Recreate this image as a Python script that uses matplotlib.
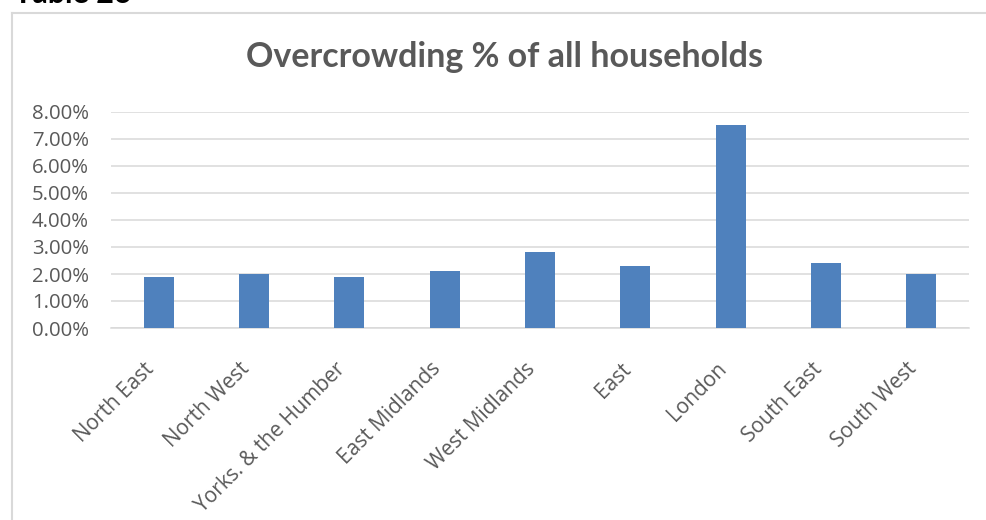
import matplotlib.pyplot as plt
from matplotlib.ticker import FuncFormatter

# Overcrowding by region, share of all households
regions = ["North East", "North West", "Yorks. & the Humber", "East Midlands",
           "West Midlands", "East", "London", "South East", "South West"]
overcrowding = [0.019, 0.020, 0.019, 0.021, 0.028, 0.023, 0.075, 0.024, 0.020]
y_ticks = [0.00, 0.01, 0.02, 0.03, 0.04, 0.05, 0.06, 0.07, 0.08]

plt.rcParams["font.family"] = ["Open Sans", "DejaVu Sans"]

W, H = 986, 520
fig = plt.figure(figsize=(W / 100, H / 100), dpi=100)

# chart frame (top and left edges visible)
fig.add_artist(plt.Line2D([12 / W, 985 / W], [1 - 13 / H, 1 - 13 / H],
                          color="#d9d9d9", lw=1.5))
fig.add_artist(plt.Line2D([12 / W, 12 / W], [0, 1 - 13 / H],
                          color="#d9d9d9", lw=1.5))

# caption sitting above the frame, mostly cut off
fig.text(14 / W, 1 - 3 / H, "Table 26", fontsize=22, fontweight="bold",
         family="Lato", color="black", va="baseline", ha="left")

ax = fig.add_axes([111 / W, 1 - 328 / H, (969 - 111) / W, (328 - 112) / H])
x = range(len(regions))
ax.bar(x, overcrowding, width=0.315, color="#4f81bd", zorder=3)

ax.set_xlim(-0.5, len(regions) - 0.5)
ax.set_ylim(0, 0.08)
ax.set_yticks(y_ticks)
ax.yaxis.set_major_formatter(FuncFormatter(lambda v, p: f"{v * 100:.2f}%"))
ax.set_xticks(list(x))
ax.set_xticklabels(regions, rotation=45, ha="right", va="top")

ax.grid(axis="y", color="#d9d9d9", lw=1.1, zorder=0)
for side in ["top", "right", "left"]:
    ax.spines[side].set_visible(False)
ax.spines["bottom"].set_color("#d9d9d9")
ax.spines["bottom"].set_linewidth(1.1)
ax.tick_params(length=0, colors="#595959")
ax.tick_params(axis="y", pad=16, labelsize=14.7)
ax.tick_params(axis="x", pad=22, labelsize=15)

fig.text(505 / W, 1 - 57 / H, "Overcrowding % of all households",
         fontsize=24.5, fontweight="bold", family="Lato", color="#595959",
         ha="center", va="center")

fig.savefig("out.png", dpi=100)
